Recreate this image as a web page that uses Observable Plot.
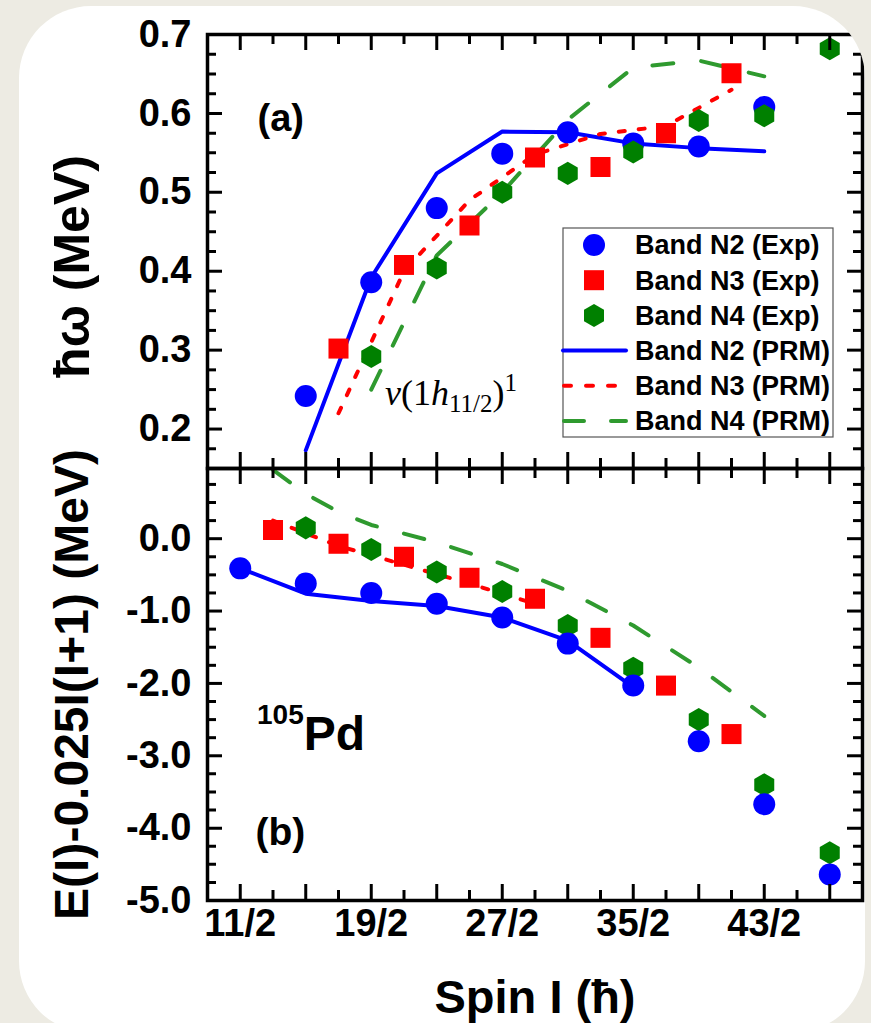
<!DOCTYPE html>
<html><head><meta charset="utf-8">
<script src="https://cdn.jsdelivr.net/npm/d3@7"></script>
<script src="https://cdn.jsdelivr.net/npm/@observablehq/plot@0.6"></script>
<style>
html,body{margin:0;padding:0;background:#edebe3;width:871px;height:1023px;overflow:hidden;}
#card{position:absolute;left:19px;top:6px;width:846px;height:1027px;background:#fff;border-radius:72px;overflow:hidden;}
#card svg{position:absolute;}
</style></head><body><div id="card"></div>
<script>
// ---------- data ----------
// x ticks (spin, in units of hbar)
const majorX = [5.5, 7.5, 9.5, 11.5, 13.5, 15.5, 17.5, 19.5, 21.5, 23.5];
const minorX = [6.5, 8.5, 10.5, 12.5, 14.5, 16.5, 18.5, 20.5, 22.5];
const labelX = [5.5, 9.5, 13.5, 17.5, 21.5];

// panel (a): hbar*omega (MeV)
const aMajorY = [0.2, 0.3, 0.4, 0.5, 0.6];
const aMinorY = [0.175, 0.225, 0.25, 0.275, 0.325, 0.35, 0.375, 0.425, 0.45, 0.475, 0.525, 0.55, 0.575, 0.625, 0.65, 0.675];
const aLabelY = [0.2, 0.3, 0.4, 0.5, 0.6, 0.7];

const aN2ExpSpin = [7.5, 9.5, 11.5, 13.5, 15.5, 17.5, 19.5, 21.5];
const aN2Exp     = [0.242, 0.386, 0.480, 0.549, 0.576, 0.562, 0.558, 0.608];
const aN3ExpSpin = [8.5, 10.5, 12.5, 14.5, 16.5, 18.5, 20.5];
const aN3Exp     = [0.302, 0.408, 0.458, 0.544, 0.532, 0.575, 0.651];
const aN4ExpSpin = [9.5, 11.5, 13.5, 15.5, 17.5, 19.5, 21.5, 23.5];
const aN4Exp     = [0.292, 0.404, 0.500, 0.524, 0.551, 0.591, 0.597, 0.682];
const aN2PrmSpin = [7.5, 9.5, 11.5, 13.5, 15.5, 17.5, 19.5, 21.5];
const aN2Prm     = [0.173, 0.392, 0.524, 0.577, 0.576, 0.562, 0.556, 0.552];
const aN3PrmSpin = [8.5, 10.5, 12.5, 14.5, 16.5, 18.5, 20.5];
const aN3Prm     = [0.220, 0.400, 0.490, 0.548, 0.574, 0.584, 0.630];
const aN4PrmSpin = [9.5, 11.5, 13.5, 15.5, 17.5, 19.5, 21.5];
const aN4Prm     = [0.250, 0.420, 0.500, 0.592, 0.658, 0.667, 0.647];

// panel (b): E(I) - 0.025 I(I+1) (MeV)
const bMajorY = [-4, -3, -2, -1, 0];
const bMinorY = [-4.75, -4.5, -4.25, -3.75, -3.5, -3.25, -2.75, -2.5, -2.25, -1.75, -1.5, -1.25, -0.75, -0.5, -0.25, 0.25, 0.5, 0.75];
const bLabelY = [-5, -4, -3, -2, -1, 0];

const bN2ExpSpin = [5.5, 7.5, 9.5, 11.5, 13.5, 15.5, 17.5, 19.5, 21.5, 23.5];
const bN2Exp     = [-0.41, -0.62, -0.75, -0.90, -1.09, -1.45, -2.03, -2.80, -3.67, -4.64];
const bN3ExpSpin = [6.5, 8.5, 10.5, 12.5, 14.5, 16.5, 18.5, 20.5];
const bN3Exp     = [0.12, -0.07, -0.25, -0.54, -0.83, -1.37, -2.03, -2.70];
const bN4ExpSpin = [7.5, 9.5, 11.5, 13.5, 15.5, 17.5, 19.5, 21.5, 23.5];
const bN4Exp     = [0.15, -0.15, -0.46, -0.73, -1.20, -1.79, -2.50, -3.40, -4.34];
const bN2PrmSpin = [5.5, 7.5, 9.5, 11.5, 13.5, 15.5, 17.5];
const bN2Prm     = [-0.41, -0.76, -0.86, -0.93, -1.09, -1.41, -2.05];
const bN3PrmSpin = [6.5, 8.5, 10.5, 12.5, 14.5];
const bN3Prm     = [0.25, -0.10, -0.36, -0.62, -0.90];
const bN4PrmSpin = [6.5, 7.5, 8.5, 9.5, 11.5, 13.5, 15.5, 17.5, 19.5, 21.5];
const bN4Prm     = [0.95, 0.62, 0.37, 0.19, -0.05, -0.35, -0.72, -1.20, -1.78, -2.45];

const legendLabels = ["Band N2 (Exp)", "Band N3 (Exp)", "Band N4 (Exp)", "Band N2 (PRM)", "Band N3 (PRM)", "Band N4 (PRM)"];

// ---------- styles ----------
const BLUE = "#0000ff", RED = "#ff0000", GREEN = "#008000", LGREEN = "#2f9a2f";
const SANS = '"Liberation Sans", Arial, Helvetica, sans-serif';
const SERIF = '"Liberation Serif", "DejaVu Serif", serif';
const W = 871, ML = 207, MR = 9, FW = W - ML - MR;
const xDomain = [4.5, 24.5];
const svgStyle = `background:transparent;max-width:none;overflow:visible;font-family:${SANS};`;
const pts = (s, v) => s.map((d, i) => ({s: d, v: v[i]}));
const fmt1 = d => d.toFixed(1);

function seriesMarks(N2e, N3e, N4e, N2p, N3p, N4p, blueLast) {
  const lines = [
    Plot.line(N2p, {x: "s", y: "v", stroke: BLUE, strokeWidth: 4, clip: "frame"}),
    Plot.line(N3p, {x: "s", y: "v", stroke: RED, strokeWidth: 4, strokeDasharray: "6,14", strokeLinecap: "round", clip: "frame"}),
    Plot.line(N4p, {x: "s", y: "v", stroke: LGREEN, strokeWidth: 4, strokeDasharray: "21,28", strokeLinecap: "round", clip: "frame"})
  ];
  const blue = Plot.dot(N2e, {x: "s", y: "v", r: 11, fill: BLUE, symbol: "circle"});
  const red = Plot.dot(N3e, {x: "s", y: "v", r: 11.3, fill: RED, symbol: "square"});
  const green = Plot.dot(N4e, {x: "s", y: "v", r: 10, fill: GREEN, symbol: "hexagon"});
  return blueLast ? [...lines, green, red, blue] : [...lines, blue, red, green];
}

function tickMarks(majY, minY, FH) {
  return [
    Plot.tickY(majY, {y: d => d, insetRight: FW - 15, strokeWidth: 3}),
    Plot.tickY(minY, {y: d => d, insetRight: FW - 9, strokeWidth: 3}),
    Plot.tickY(majY, {y: d => d, insetLeft: FW - 15, strokeWidth: 3}),
    Plot.tickY(minY, {y: d => d, insetLeft: FW - 9, strokeWidth: 3}),
    Plot.tickX(majorX, {x: d => d, insetBottom: FH - 16, strokeWidth: 3}),
    Plot.tickX(minorX, {x: d => d, insetBottom: FH - 10, strokeWidth: 3}),
    Plot.tickX(majorX, {x: d => d, insetTop: FH - 16, strokeWidth: 3}),
    Plot.tickX(minorX, {x: d => d, insetTop: FH - 10, strokeWidth: 3})
  ];
}

// ---------- panel (a) ----------
const topH = 480, topMT = 34, topMB = 12, topFH = topH - topMT - topMB;
const topPlot = Plot.plot({
  width: W, height: topH, marginLeft: ML, marginRight: MR, marginTop: topMT, marginBottom: topMB,
  x: {domain: xDomain, axis: null},
  y: {domain: [0.15, 0.7], axis: null},
  style: svgStyle,
  marks: [
    ...seriesMarks(pts(aN2ExpSpin, aN2Exp), pts(aN3ExpSpin, aN3Exp), pts(aN4ExpSpin, aN4Exp),
                   pts(aN2PrmSpin, aN2Prm), pts(aN3PrmSpin, aN3Prm), pts(aN4PrmSpin, aN4Prm), false),
    ...tickMarks(aMajorY, aMinorY, topFH),
    Plot.text(aLabelY, {y: d => d, text: fmt1, frameAnchor: "left", dx: -16, textAnchor: "end", fontSize: 38, fontWeight: "bold"}),
    Plot.frame({stroke: "black", strokeWidth: 3.5}),
    Plot.text(["ħω (MeV)"], {text: d => d, frameAnchor: "left", dx: -135, dy: 15, rotate: -90, textAnchor: "middle", fontSize: 50, fontWeight: "bold"}),
    Plot.text(["(a)"], {text: d => d, frameAnchor: "top-left", dx: 50, dy: 96, textAnchor: "start", lineAnchor: "bottom", fontSize: 38, fontWeight: "bold"})
  ]
});
topPlot.style.left = "-19px"; topPlot.style.top = "-6px";

// nu(1h_{11/2})^1 annotation
{
  const t = d3.select(topPlot).append("text").attr("x", 385).attr("y", 405).attr("text-anchor", "start")
    .attr("font-family", SERIF).attr("font-size", 36).attr("fill", "black");
  t.append("tspan").attr("font-style", "italic").text("ν");
  t.append("tspan").text("(1");
  t.append("tspan").attr("font-style", "italic").text("h");
  t.append("tspan").attr("font-size", 25).attr("dy", 7).text("11/2");
  t.append("tspan").attr("dy", -7).text(")");
  t.append("tspan").attr("font-size", 25).attr("dy", -14).text("1");
}

// legend
{
  const g = d3.select(topPlot).append("g").attr("font-family", SANS).attr("text-anchor", "start");
  g.append("rect").attr("x", 563).attr("y", 228).attr("width", 270).attr("height", 209)
    .attr("fill", "white").attr("stroke", "#555").attr("stroke-width", 1.2);
  const rows = legendLabels.map((d, i) => 245 + i * 35.2);
  const sx = 594;
  g.append("circle").attr("cx", sx).attr("cy", rows[0]).attr("r", 11).attr("fill", BLUE);
  g.append("rect").attr("x", sx - 10).attr("y", rows[1] - 10).attr("width", 20).attr("height", 20).attr("fill", RED);
  const rx = 10, ry = 11.5, cy = rows[2];
  g.append("path").attr("d", `M${sx},${cy - ry}L${sx + rx},${cy - ry / 2}L${sx + rx},${cy + ry / 2}L${sx},${cy + ry}L${sx - rx},${cy + ry / 2}L${sx - rx},${cy - ry / 2}Z`).attr("fill", GREEN);
  g.append("line").attr("x1", 563).attr("x2", 626).attr("y1", rows[3]).attr("y2", rows[3]).attr("stroke", BLUE).attr("stroke-width", 4).attr("stroke-linecap", "round");
  g.append("line").attr("x1", 564).attr("x2", 626).attr("y1", rows[4]).attr("y2", rows[4]).attr("stroke", RED).attr("stroke-width", 4).attr("stroke-dasharray", "7,15").attr("stroke-linecap", "round");
  g.append("line").attr("x1", 564).attr("x2", 626).attr("y1", rows[5]).attr("y2", rows[5]).attr("stroke", LGREEN).attr("stroke-width", 4).attr("stroke-dasharray", "20,27").attr("stroke-linecap", "round");
  legendLabels.forEach((d, i) => {
    g.append("text").attr("x", 635).attr("y", rows[i]).attr("dy", "0.35em")
      .attr("font-size", 27).attr("font-weight", "bold").attr("fill", "black").text(d);
  });
}

// ---------- panel (b) ----------
const botTop = 456, botH = 567, botMT = 12, botMB = 123, botFH = botH - botMT - botMB;
const botPlot = Plot.plot({
  width: W, height: botH, marginLeft: ML, marginRight: MR, marginTop: botMT, marginBottom: botMB,
  x: {domain: xDomain, axis: null},
  y: {domain: [-5, 0.97], axis: null},
  style: svgStyle,
  marks: [
    ...seriesMarks(pts(bN2ExpSpin, bN2Exp), pts(bN3ExpSpin, bN3Exp), pts(bN4ExpSpin, bN4Exp),
                   pts(bN2PrmSpin, bN2Prm), pts(bN3PrmSpin, bN3Prm), pts(bN4PrmSpin, bN4Prm), true),
    ...tickMarks(bMajorY, bMinorY, botFH),
    Plot.text(bLabelY, {y: d => d, text: fmt1, frameAnchor: "left", dx: -16, textAnchor: "end", fontSize: 38, fontWeight: "bold"}),
    Plot.text(labelX, {x: d => d, text: d => `${d * 2}/2`, frameAnchor: "bottom", dy: 35, fontSize: 38, fontWeight: "bold"}),
    Plot.frame({stroke: "black", strokeWidth: 3.5}),
    Plot.text(["E(I)-0.025I(I+1) (MeV)"], {text: d => d, frameAnchor: "left", dx: -135, rotate: -90, textAnchor: "middle", fontSize: 48, fontWeight: "bold"}),
    Plot.text(["Spin I (ħ)"], {text: d => d, frameAnchor: "bottom", dy: 112, lineAnchor: "bottom", fontSize: 47, fontWeight: "bold"}),
    Plot.text(["(b)"], {text: d => d, frameAnchor: "top-left", dx: 48, dy: 376, textAnchor: "start", lineAnchor: "bottom", fontSize: 39, fontWeight: "bold"})
  ]
});
botPlot.style.left = "-19px"; botPlot.style.top = (botTop - 6) + "px";
{
  const t = d3.select(botPlot).append("text").attr("x", 257).attr("y", 750 - botTop).attr("text-anchor", "start")
    .attr("font-family", SANS).attr("font-weight", "bold").attr("fill", "black");
  t.append("tspan").attr("font-size", 28).attr("dy", -26).text("105");
  t.append("tspan").attr("font-size", 48).attr("dy", 26).text("Pd");
}

const card = document.getElementById("card");
card.appendChild(topPlot);
card.appendChild(botPlot);
</script></body></html>
